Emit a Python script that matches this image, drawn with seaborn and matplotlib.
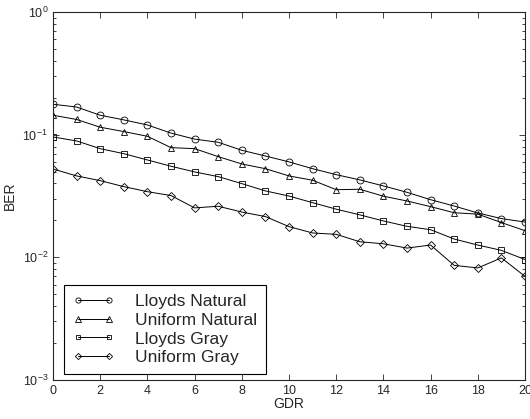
import matplotlib
matplotlib.use('Agg')
import matplotlib.pyplot as plt
import seaborn as sns
import pandas as pd
from matplotlib.ticker import LogLocator, NullFormatter

gdr = list(range(21))
lloyds_natural = [0.177, 0.168, 0.144, 0.132, 0.120, 0.103, 0.092, 0.0867, 0.0746, 0.067, 0.060,
                  0.0528, 0.0472, 0.0428, 0.0382, 0.0339, 0.0295, 0.0262, 0.0230, 0.0207, 0.0194]
uniform_natural = [0.144, 0.133, 0.115, 0.106, 0.097, 0.0784, 0.0769, 0.0662, 0.0577, 0.0528, 0.0461,
                   0.0425, 0.0356, 0.0359, 0.0315, 0.0288, 0.0259, 0.0231, 0.0225, 0.0192, 0.0165]
lloyds_gray = [0.0958, 0.0889, 0.0769, 0.070, 0.0622, 0.0553, 0.0497, 0.0455, 0.0399, 0.0348, 0.0316,
               0.0279, 0.0247, 0.0222, 0.0198, 0.0179, 0.0168, 0.0141, 0.0126, 0.0114, 0.0096]
uniform_gray = [0.0525, 0.0461, 0.0422, 0.0377, 0.0343, 0.0319, 0.0253, 0.0261, 0.0234, 0.0215, 0.0178,
                0.0158, 0.0154, 0.0134, 0.0129, 0.0119, 0.0126, 0.0086, 0.0082, 0.0099, 0.0070]

series = {
    'Lloyds Natural': (lloyds_natural, 'o'),
    'Uniform Natural': (uniform_natural, '^'),
    'Lloyds Gray': (lloyds_gray, 's'),
    'Uniform Gray': (uniform_gray, 'D'),
}

sns.set_style('ticks')
plt.rcParams['font.family'] = ['Liberation Sans', 'DejaVu Sans']

fig = plt.figure(figsize=(5.3, 4.19), dpi=100)
ax = fig.add_axes([0.1, 0.093, 0.8906, 0.8784])

for name, (vals, mk) in series.items():
    df = pd.DataFrame({'GDR': gdr, 'BER': vals})
    ms = 4.2 if mk == 'D' else (4.0 if mk == 's' else 5.0)
    sns.lineplot(data=df, x='GDR', y='BER', ax=ax, color='k', marker=mk, markersize=ms,
                 markerfacecolor='none', markeredgecolor='k', markeredgewidth=0.6,
                 linewidth=0.7, label=name)

ax.set_yscale('log')
ax.set_ylim(1e-3, 1)
ax.set_xlim(0, 20)
ax.set_xticks(range(0, 21, 2))
ax.yaxis.set_major_locator(LogLocator(base=10, numticks=10))
ax.yaxis.set_minor_locator(LogLocator(base=10, subs=range(2, 10), numticks=10))
ax.yaxis.set_minor_formatter(NullFormatter())
ax.tick_params(which='both', direction='in', top=True, right=True, labelsize=9, width=0.6)
ax.tick_params(which='major', length=4)
ax.tick_params(which='minor', length=2)
for s in ax.spines.values():
    s.set_linewidth(0.8)
ax.set_xlabel('GDR', fontsize=10, labelpad=0)
ax.set_ylabel('BER', fontsize=10, labelpad=4)

leg = ax.legend(loc='lower left', bbox_to_anchor=(0.02, 0.012), fontsize=12.5, frameon=True,
                fancybox=False, edgecolor='k', framealpha=1, handlelength=2.4, numpoints=2,
                borderpad=0.5, labelspacing=0.2, handletextpad=1.2, markerscale=0.75,
                borderaxespad=0.1)
leg.get_frame().set_linewidth(0.8)

fig.savefig('out.png', dpi=100)
